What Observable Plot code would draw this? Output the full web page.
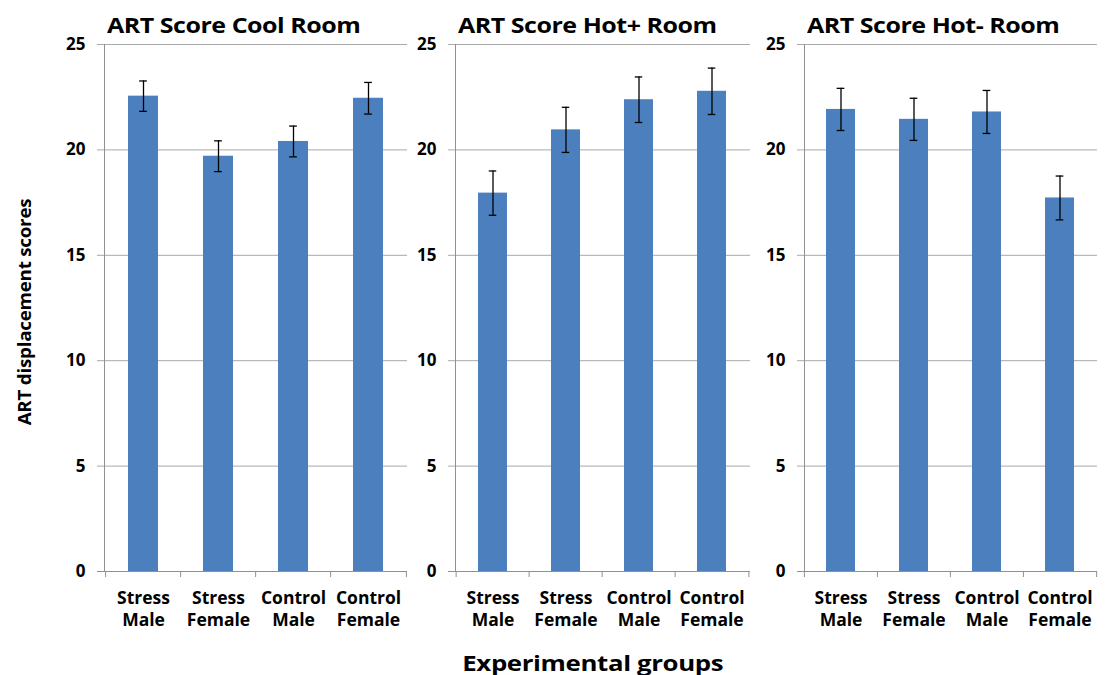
<!DOCTYPE html>
<html>
<head>
<meta charset="utf-8">
<script src="https://cdn.jsdelivr.net/npm/d3@7"></script>
<script src="https://cdn.jsdelivr.net/npm/@observablehq/plot@0.6"></script>
<style>
  html, body { margin: 0; padding: 0; background: #fff; }
  #root { position: relative; width: 1105px; height: 675px; overflow: hidden; font-family: "Open Sans", Lato, sans-serif; }
  .title { position: absolute; font-weight: bold; font-size: 21px; line-height: 21px; white-space: nowrap; color: #000; letter-spacing: -0.4px; transform: scaleX(1.19); transform-origin: left center; }
  .panel { position: absolute; top: 0; }
  .ylab { position: absolute; font-weight: bold; font-size: 18px; white-space: nowrap; letter-spacing: -0.2px; }
  .xlab { position: absolute; font-weight: bold; font-size: 21.5px; white-space: nowrap; letter-spacing: -0.3px; }
</style>
</head>
<body>
<div id="root"></div>
<script>
const rooms = ["ART Score Cool Room", "ART Score Hot+ Room", "ART Score Hot- Room"];
const groups = ["Stress Male", "Stress Female", "Control Male", "Control Female"];
const groupLabels = ["Stress\nMale", "Stress\nFemale", "Control\nMale", "Control\nFemale"];
const coolMeans = [22.55, 19.7, 20.4, 22.45];
const coolErr = [0.72, 0.73, 0.73, 0.75];
const hotPlusMeans = [17.95, 20.95, 22.38, 22.78];
const hotPlusErr = [1.05, 1.07, 1.08, 1.1];
const hotMinusMeans = [21.92, 21.45, 21.8, 17.72];
const hotMinusErr = [1.0, 1.0, 1.02, 1.04];
const yTicks = [0, 5, 10, 15, 20, 25];
const yTitle = "ART displacement scores";
const xTitle = "Experimental groups";

const series = [
  {room: rooms[0], means: coolMeans, errs: coolErr},
  {room: rooms[1], means: hotPlusMeans, errs: hotPlusErr},
  {room: rooms[2], means: hotMinusMeans, errs: hotMinusErr}
];

// layout: svg left offset, svg width, marginLeft, marginRight
const layout = [
  {left: 40, width: 370, ml: 64, mr: 3},
  {left: 410, width: 343, ml: 45, mr: 3},
  {left: 760, width: 340, ml: 44, mr: 3}
];

const HEIGHT = 640, MT = 44, MB = 69;
const root = document.getElementById("root");
const labelOf = new Map(groups.map((g, i) => [g, groupLabels[i]]));

series.forEach((s, k) => {
  const L = layout[k];
  const data = groups.map((g, i) => ({group: g, mean: s.means[i], lo: s.means[i] - s.errs[i], hi: s.means[i] + s.errs[i]}));
  const step = (L.width - L.ml - L.mr) / groups.length;
  const capInset = step * 0.4 / 2 - 4;
  const chart = Plot.plot({
    width: L.width,
    height: HEIGHT,
    marginLeft: L.ml,
    marginRight: L.mr,
    marginTop: MT,
    marginBottom: MB,
    style: {fontFamily: "'Open Sans', Lato, sans-serif", fontWeight: "bold", fontSize: "15px", color: "#000", background: "transparent", overflow: "visible"},
    x: {domain: groups, paddingInner: 0.6, paddingOuter: 0.3, label: null},
    y: {domain: [0, 25], label: null},
    marks: [
      Plot.ruleY(yTicks.filter(d => d > 0), {stroke: "#a8a8a8", strokeWidth: 1, insetLeft: -7}),
      Plot.frame({anchor: "left", stroke: "#909090"}),
      Plot.ruleY([0], {stroke: "#909090", insetLeft: -7}),
      Plot.barY(data, {x: "group", y: "mean", fill: "#4c7fbd"}),
      Plot.ruleX(groups, {x: d => d, dx: -step / 2, y1: 0, y2: 0, insetBottom: -6, stroke: "#909090"}),
      Plot.ruleX(groups.slice(-1), {x: d => d, dx: step / 2, y1: 0, y2: 0, insetBottom: -6, stroke: "#909090"}),
      Plot.ruleX(data, {x: "group", y1: "lo", y2: "hi", stroke: "#000", strokeWidth: 1.3}),
      Plot.tickY(data, {x: "group", y: "hi", stroke: "#000", strokeWidth: 1.3, insetLeft: capInset, insetRight: capInset}),
      Plot.tickY(data, {x: "group", y: "lo", stroke: "#000", strokeWidth: 1.3, insetLeft: capInset, insetRight: capInset}),
      Plot.axisY({ticks: yTicks, tickSize: 0, tickPadding: 19, fontSize: 17}),
      Plot.axisX({tickSize: 0, tickPadding: 17, tickFormat: d => labelOf.get(d), lineHeight: 1.25, fontSize: 17.5, letterSpacing: "0.3px"})
    ]
  });
  chart.classList.add("panel");
  chart.style.left = L.left + "px";
  root.appendChild(chart);

  const t = document.createElement("div");
  t.className = "title";
  t.textContent = s.room;
  t.style.left = (L.left + L.ml + 3) + "px";
  t.style.top = "15px";
  root.appendChild(t);
});

const yl = document.createElement("div");
yl.className = "ylab";
yl.textContent = yTitle;
root.appendChild(yl);
const w = yl.offsetWidth, h = yl.offsetHeight;
yl.style.left = (24 - w / 2) + "px";
yl.style.top = (312 - h / 2) + "px";
yl.style.transform = "rotate(-90deg) scaleX(1.04)";

const xl = document.createElement("div");
xl.className = "xlab";
xl.textContent = xTitle;
root.appendChild(xl);
xl.style.left = (592 - xl.offsetWidth / 2) + "px";
xl.style.top = (662 - xl.offsetHeight / 2) + "px";
xl.style.transform = "scaleX(1.2)";
</script>
</body>
</html>
